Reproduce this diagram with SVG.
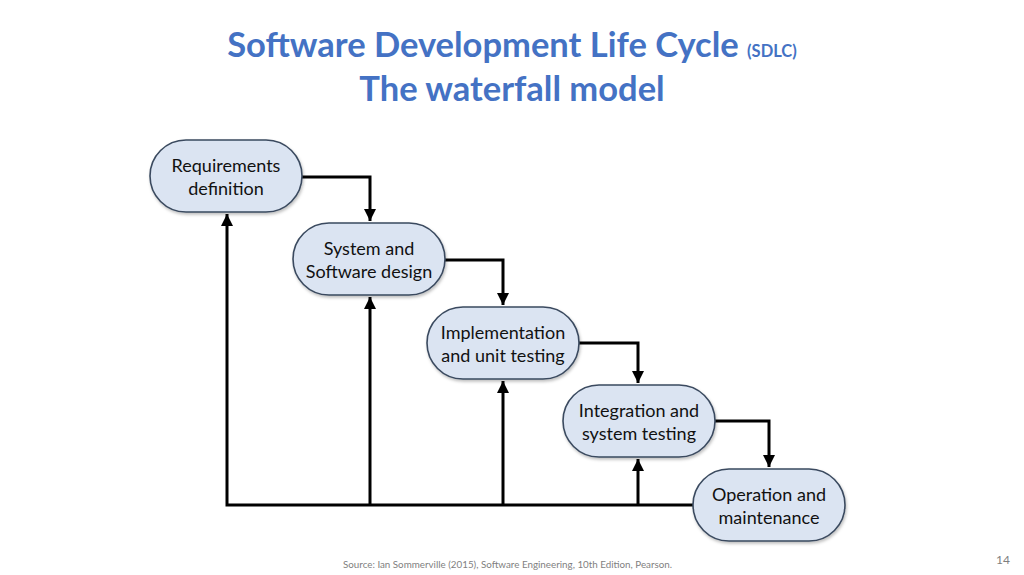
<svg xmlns="http://www.w3.org/2000/svg" width="1024" height="575" viewBox="0 0 1024 575">
<style>
.node rect{fill:#dbe4f2;stroke:#3a4a5f;stroke-width:1.6}
.node text{font-family:Lato,"Noto Sans",sans-serif;font-size:18px;fill:#111;text-anchor:middle}
.conn path{fill:none;stroke:#000;stroke-width:3}
.title{font-family:Lato,"Noto Sans",sans-serif;font-weight:bold;fill:#4472c4}
.foot{font-family:Lato,"Noto Sans",sans-serif;fill:#7f7f7f}
</style>
<defs>
<marker id="ah" viewBox="0 0 10 10" refX="10" refY="5" markerWidth="4" markerHeight="4" orient="auto" markerUnits="strokeWidth">
<path d="M0,0 L10,5 L0,10 z" fill="#000"/>
</marker>
<filter id="sh" x="-10%" y="-10%" width="120%" height="130%">
<feDropShadow dx="1" dy="2" stdDeviation="1.5" flood-color="#000" flood-opacity="0.25"/>
</filter>
</defs>
<rect width="1024" height="575" fill="#fff"/>
<text class="title" x="512" y="57" text-anchor="middle"><tspan font-size="34.5">Software Development Life Cycle </tspan><tspan font-size="16.5">(SDLC)</tspan></text>
<text class="title" x="512" y="101" text-anchor="middle" font-size="34.5">The waterfall model</text>

<g id="connectors" class="conn">
<path d="M302,177 H370 V221" marker-end="url(#ah)"/>
<path d="M445,260 H503 V305" marker-end="url(#ah)"/>
<path d="M578,343 H638 V383" marker-end="url(#ah)"/>
<path d="M715,421 H769 V467" marker-end="url(#ah)"/>
<path d="M693,505 H227 V214" marker-end="url(#ah)"/>
<path d="M370,505 V297" marker-end="url(#ah)"/>
<path d="M503,505 V381" marker-end="url(#ah)"/>
<path d="M638,505 V459" marker-end="url(#ah)"/>
</g>

<g id="n1" class="node"><rect x="150" y="140" width="152" height="72" rx="36" filter="url(#sh)"/><text x="226" y="172">Requirements</text><text x="226" y="195">definition</text></g>
<g id="n2" class="node"><rect x="293" y="223" width="152" height="72" rx="36" filter="url(#sh)"/><text x="369" y="255">System and</text><text x="369" y="278">Software design</text></g>
<g id="n3" class="node"><rect x="427" y="307" width="152" height="72" rx="36" filter="url(#sh)"/><text x="503" y="339">Implementation</text><text x="503" y="362">and unit testing</text></g>
<g id="n4" class="node"><rect x="563" y="385" width="152" height="72" rx="36" filter="url(#sh)"/><text x="639" y="417">Integration and</text><text x="639" y="440">system testing</text></g>
<g id="n5" class="node"><rect x="693" y="469" width="152" height="72" rx="36" filter="url(#sh)"/><text x="769" y="501">Operation and</text><text x="769" y="524">maintenance</text></g>

<text class="foot" x="343" y="568" font-size="9.8">Source: Ian Sommerville (2015), Software Engineering, 10th Edition, Pearson.</text>
<text class="foot" x="1010" y="564" font-size="12" text-anchor="end">14</text>
</svg>
